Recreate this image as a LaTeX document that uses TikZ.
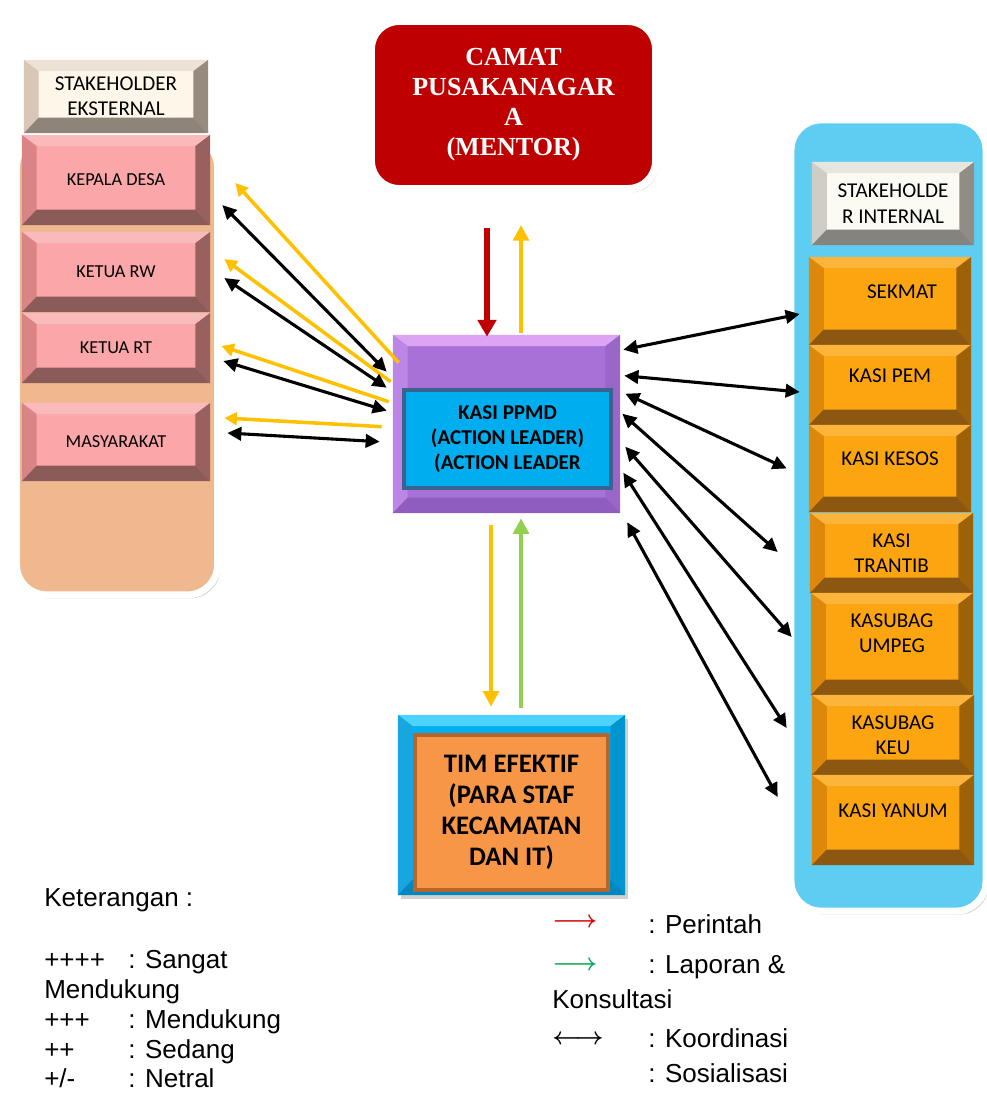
\documentclass[tikz,border=0pt]{standalone}
\usepackage{fontspec}
\setmainfont{Carlito}
\newfontfamily\camatfont{Liberation Serif}
\newfontfamily\ketfont{Liberation Sans}
\usepackage{tikz}
\usetikzlibrary{arrows.meta,shadows}
\definecolor{xpeach}{RGB}{240,184,142}
\definecolor{xsky}{RGB}{93,205,241}
\definecolor{xyellow}{RGB}{255,192,0}
\definecolor{xred}{RGB}{192,0,0}
\definecolor{xgreen}{RGB}{146,208,80}
\definecolor{xlegred}{RGB}{210,0,0}
\definecolor{xleggreen}{RGB}{0,170,80}
\definecolor{xcamat}{RGB}{190,0,0}
\definecolor{xppmd}{RGB}{0,174,239}
\definecolor{xppmdline}{RGB}{59,99,144}
\definecolor{xtim}{RGB}{247,150,70}
\definecolor{xtimline}{RGB}{181,102,43}
% bevel colours: face, top, left, right, bottom
\definecolor{pinkface}{RGB}{251,166,169}
\definecolor{pinktop}{RGB}{249,186,188}
\definecolor{pinkleft}{RGB}{218,132,134}
\definecolor{pinkright}{RGB}{152,96,94}
\definecolor{pinkbot}{RGB}{139,91,89}
\definecolor{creamface}{RGB}{254,247,233}
\definecolor{creamtop}{RGB}{236,226,213}
\definecolor{creamleft}{RGB}{216,199,183}
\definecolor{creamright}{RGB}{151,138,126}
\definecolor{creambot}{RGB}{143,132,121}
\definecolor{greyface}{RGB}{251,251,243}
\definecolor{greytop}{RGB}{230,230,222}
\definecolor{greyleft}{RGB}{207,205,197}
\definecolor{greyright}{RGB}{143,141,134}
\definecolor{greybot}{RGB}{133,131,125}
\definecolor{orangeface}{RGB}{252,165,16}
\definecolor{orangetop}{RGB}{253,180,58}
\definecolor{orangeleft}{RGB}{221,136,11}
\definecolor{orangeright}{RGB}{157,97,7}
\definecolor{orangebot}{RGB}{140,87,16}
\definecolor{purpleface}{RGB}{168,113,216}
\definecolor{purpletop}{RGB}{221,164,244}
\definecolor{purpleleft}{RGB}{187,134,230}
\definecolor{purpleright}{RGB}{154,102,200}
\definecolor{purplebot}{RGB}{142,93,189}
\definecolor{blueface}{RGB}{0,176,240}
\definecolor{bluetop}{RGB}{77,211,255}
\definecolor{blueleft}{RGB}{23,166,223}
\definecolor{blueright}{RGB}{0,149,207}
\definecolor{bluebot}{RGB}{0,135,189}

\begin{document}
\begin{tikzpicture}[x=0.025cm, y=-0.025cm,
  bevelbox/.style={rectangle, align=center, inner sep=0pt, fill=#1face, path picture={
    \coordinate (bnw) at (path picture bounding box.north west);
    \coordinate (bne) at (path picture bounding box.north east);
    \coordinate (bsw) at (path picture bounding box.south west);
    \coordinate (bse) at (path picture bounding box.south east);
    \coordinate (inw) at ([xshift=10.5pt, yshift=-8pt]bnw);
    \coordinate (ine) at ([xshift=-10.5pt, yshift=-8pt]bne);
    \coordinate (isw) at ([xshift=10.5pt, yshift=11pt]bsw);
    \coordinate (ise) at ([xshift=-10.5pt, yshift=11pt]bse);
    \fill[#1top] (bnw) -- (bne) -- (ine) -- (inw) -- cycle;
    \fill[#1left] (bnw) -- (inw) -- (isw) -- (bsw) -- cycle;
    \fill[#1right] (bne) -- (bse) -- (ise) -- (ine) -- cycle;
    \fill[#1bot] (bsw) -- (isw) -- (ise) -- (bse) -- cycle;}},
  softshadow/.style={drop shadow={shadow xshift=2pt, shadow yshift=-2.5pt, opacity=0.3, fill=black!60}},
  stakecol/.style={rectangle, rounded corners=0.75cm, draw=white, line width=5pt, softshadow},
  pinkbox/.style={bevelbox=pink, minimum width=4.7cm, font=\fontsize{13}{17}\selectfont},
  orangebox/.style={bevelbox=orange, minimum width=4.05cm, font=\fontsize{15}{18}\selectfont},
  headbox/.style={minimum width=4.05cm, font=\fontsize{15}{18}\selectfont},
  lift/.style={text depth=#1},
  yarrow/.style={draw=xyellow, line width=2.5pt, -{Triangle[length=9pt, width=9pt]}},
  karrow/.style={draw=black, line width=2.2pt, {Triangle[length=10pt, width=9.5pt]}-{Triangle[length=10pt, width=9.5pt]}},
  ketnode/.style={anchor=base west, inner sep=0pt, font=\ketfont\fontsize{18.5}{21.5}\selectfont},
  ketarrow/.style={anchor=base west, inner sep=0pt, font=\boldmath\fontsize{16}{18}\selectfont}]
\useasboundingbox (0,0) rectangle (987,1093);

% stakeholder columns
\node[stakecol, fill=xpeach, minimum width=5.025cm, minimum height=11.44cm] at (117, 366) (extcol) {};
\node[stakecol, fill=xsky, minimum width=4.875cm, minimum height=19.775cm] at (888.5, 515.5) (intcol) {};

% eksternal
\node[bevelbox=cream, minimum width=4.6cm, minimum height=1.825cm, font=\fontsize{15}{18}\selectfont] at (116, 96.5) (ekst) {STAKEHOLDER\\EKSTERNAL};
\node[pinkbox, minimum height=2.25cm] at (116, 180) (kades) {KEPALA DESA};
\node[pinkbox, minimum height=2.0cm] at (116, 272) (rw) {KETUA RW};
\node[pinkbox, minimum height=1.75cm] at (116, 348) (rt) {KETUA RT};
\node[pinkbox, minimum height=1.95cm] at (116, 442) (masy) {MASYARAKAT};

% internal
\node[bevelbox=grey, headbox, minimum height=2.075cm] at (893, 203.5) (intl) {STAKEHOLDE\\R INTERNAL};
\node[orangebox, minimum height=2.2cm, lift=12.8pt] at (890, 301) (sekmat) {\hspace*{17pt}SEKMAT};
\node[orangebox, minimum height=2.0cm, lift=14pt] at (890, 385) (pem) {KASI PEM};
\node[orangebox, minimum height=2.175cm, lift=14pt] at (890, 468.5) (kesos) {KASI KESOS};
\node[orangebox, minimum width=4.075cm, minimum height=2.0cm] at (891.5, 553) (trantib) {KASI\\TRANTIB};
\node[orangebox, minimum height=2.55cm, lift=15pt] at (892, 644) (umpeg) {KASUBAG\\UMPEG};
\node[orangebox, minimum height=2.0cm] at (893, 735) (keu) {KASUBAG\\KEU};
\node[orangebox, minimum height=2.25cm, lift=14pt] at (893, 820) (yanum) {KASI YANUM};

% mentor, leader, tim
\node[draw=white, line width=5.7pt, rounded corners=0.7cm, fill=xcamat, minimum width=7.125cm, minimum height=4.2cm, text=white, align=center, font=\camatfont\bfseries\fontsize{18.5}{21.3}\selectfont, softshadow] at (513.5, 105) (camat) {CAMAT\\PUSAKANAGAR\\A\\(MENTOR)};
\node[bevelbox=purple, minimum width=5.675cm, minimum height=4.45cm] at (506.5, 424) (ppmd) {};
\node[fill=xppmd, draw=xppmdline, line width=2.8pt, minimum width=5.175cm, minimum height=2.45cm, align=center, font=\bfseries\fontsize{15}{17.8}\selectfont] at (507.5, 439) (ppmdin) {KASI PPMD\\(ACTION LEADER)\\(ACTION LEADER};
\node[bevelbox=blue, minimum width=5.675cm, minimum height=4.5cm, softshadow] at (511.5, 805) (tim) {};
\node[fill=xtim, draw=xtimline, line width=2.8pt, minimum width=4.825cm, minimum height=3.875cm, align=center, font=\bfseries\fontsize{19}{22}\selectfont] at (511.5, 812.5) (timin) {TIM EFEKTIF\\(PARA STAF\\KECAMATAN\\DAN IT)};

% perintah / laporan
\draw[draw=xred, line width=3.6pt, -{Triangle[length=12pt, width=13pt]}] ([shift={(-26.5,35)}]camat.south) -- ([shift={(-19.5,2)}]ppmd.north);
\draw[draw=xyellow, line width=2.8pt, -{Triangle[length=11pt, width=11pt]}] ([shift={(14.5,-2)}]ppmd.north) -- ([shift={(7.5,32)}]camat.south);
\draw[draw=xyellow, line width=2.8pt, -{Triangle[length=11pt, width=11pt]}] ([shift={(-15.5,12)}]ppmd.south) -- ([shift={(-20.5,-8)}]tim.north);
\draw[draw=xgreen, line width=2.8pt, -{Triangle[length=11pt, width=11pt]}] ([shift={(9.5,-7)}]tim.north) -- ([shift={(14.5,5)}]ppmd.south);

% eksternal arrows
\draw[yarrow] ([shift={(6,28)}]ppmd.north west) -- ([shift={(25,3)}]kades.east);
\draw[karrow] ([shift={(12,25)}]kades.east) -- ([shift={(-6,37)}]ppmd.north west);
\draw[yarrow] ([shift={(-2,47)}]ppmd.north west) -- ([shift={(14,-13)}]rw.east);
\draw[karrow] ([shift={(14,6)}]rw.east) -- ([shift={(-6,53)}]ppmd.north west);
\draw[yarrow] ([shift={(-4,67)}]ppmd.north west) -- ([shift={(11,-2)}]rt.east);
\draw[karrow] ([shift={(13,13)}]rt.east) -- ([shift={(-6,76)}]ppmd.north west);
\draw[yarrow] ([shift={(-11,92)}]ppmd.north west) -- ([shift={(14,-24)}]masy.east);
\draw[karrow] ([shift={(17,-9)}]masy.east) -- ([shift={(-13,107)}]ppmd.north west);

% internal arrows
\draw[karrow] ([shift={(3,15)}]ppmd.north east) -- ([shift={(-9,13)}]sekmat.west);
\draw[karrow] ([shift={(4,41)}]ppmd.north east) -- ([shift={(-9,7)}]pem.west);
\draw[karrow] ([shift={(5,59)}]ppmd.north east) -- ([shift={(-22,0)}]kesos.west);
\draw[karrow] ([shift={(2,79)}]ppmd.north east) -- ([shift={(-32,-1)}]trantib.west);
\draw[karrow] ([shift={(5,112)}]ppmd.north east) -- ([shift={(-19,-7)}]umpeg.west);
\draw[karrow] ([shift={(3,138)}]ppmd.north east) -- ([shift={(-25,-7)}]keu.west);
\draw[karrow] ([shift={(7,9)}]ppmd.south east) -- ([shift={(-34,-23)}]yanum.west);

% keterangan
\node[ketnode] at (44, 906) (ket) {Keterangan :};
\node[ketnode] at (44, 968) (k4) {++++};
\node[ketnode] at (128, 968) (k4t) {: Sangat};
\node[ketnode] at (44, 998) (k4b) {Mendukung};
\node[ketnode] at (44, 1028) (k3) {+++};
\node[ketnode] at (128, 1028) (k3t) {: Mendukung};
\node[ketnode] at (44, 1058) (k2) {++};
\node[ketnode] at (128, 1058) (k2t) {: Sedang};
\node[ketnode] at (44, 1087) (k1) {+/-};
\node[ketnode] at (128, 1087) (k1t) {: Netral};

\node[ketarrow, text=xlegred] at (552, 927) (lperintah) {$\longrightarrow$};
\node[ketnode] at (648, 933) (tperintah) {: Perintah};
\node[ketarrow, text=xleggreen] at (552, 970) (llaporan) {$\longrightarrow$};
\node[ketnode] at (648, 973) (tlaporan) {: Laporan \&};
\node[ketnode] at (552, 1008) (tkonsul) {Konsultasi};
\node[ketarrow] at (552, 1044) (lkoord) {$\longleftrightarrow$};
\node[ketnode] at (648, 1047) (tkoord) {: Koordinasi};
\node[ketnode] at (648, 1082) (tsos) {: Sosialisasi};
\end{tikzpicture}
\end{document}
